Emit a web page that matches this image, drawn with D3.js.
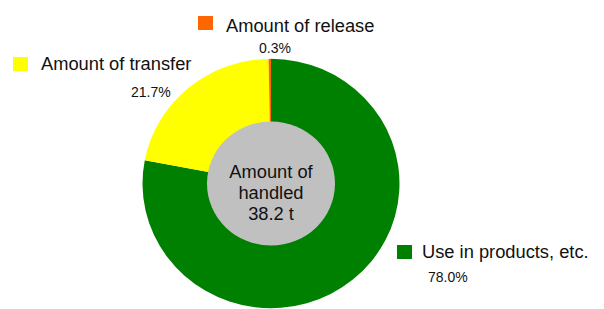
<!DOCTYPE html>
<html>
<head>
<meta charset="utf-8">
<script src="https://cdn.jsdelivr.net/npm/d3@7"></script>
<style>
  html, body { margin: 0; padding: 0; background: #fff; }
  svg { display: block; }
  .lbl { font-family: "Liberation Sans", Arial, sans-serif; font-size: 18.3px; fill: #111; }
  .pct { font-family: "Liberation Sans", Arial, sans-serif; font-size: 14px; fill: #111; }
</style>
</head>
<body>
<div id="chart"></div>
<script>
// Data
const categories = ["Use in products, etc.", "Amount of transfer", "Amount of release"];
const shares = [78.0, 21.7, 0.3];
const colors = ["#008000", "#ffff00", "#ff6600"];
const centerLines = ["Amount of", "handled", "38.2 t"];

// legend / label placement (layout only)
const labelPos = [
  { sx: 397, sy: 245, tx: 422, ty: 258, px: 428, py: 282 },
  { sx: 13, sy: 57, tx: 41, ty: 69.5, px: 131, py: 96.5 },
  { sx: 198, sy: 16, tx: 226, ty: 31.5, px: 259, py: 52.5 }
];

const width = 604, height = 309;
const cx = 271, cy = 183.5;
const outerR = 128.5, innerR = 64;
const squash = 0.97; // picture is slightly flattened vertically

const svg = d3.select("#chart").append("svg")
    .attr("width", width)
    .attr("height", height);

const pie = d3.pie().sort(null).value(d => d);
const arc = d3.arc().innerRadius(0).outerRadius(outerR);

const g = svg.append("g")
    .attr("transform", `translate(${cx},${cy}) scale(1,${squash})`);

g.selectAll("path")
    .data(pie(shares))
    .enter().append("path")
    .attr("d", arc)
    .attr("fill", (d, i) => colors[i]);

// grey hole
g.append("circle")
    .attr("r", innerR)
    .attr("fill", "#c0c0c0");

// center text
svg.append("g")
    .selectAll("text")
    .data(centerLines)
    .enter().append("text")
    .attr("class", "lbl")
    .attr("x", cx)
    .attr("y", (d, i) => 177.5 + i * 21.2)
    .attr("text-anchor", "middle")
    .text(d => d);

// legend squares, names and percents
const leg = svg.append("g");
categories.forEach((name, i) => {
    const p = labelPos[i];
    leg.append("rect")
        .attr("x", p.sx).attr("y", p.sy)
        .attr("width", 15).attr("height", 14)
        .attr("fill", colors[i]);
    leg.append("text")
        .attr("class", "lbl")
        .attr("x", p.tx).attr("y", p.ty)
        .text(name);
    leg.append("text")
        .attr("class", "pct")
        .attr("x", p.px).attr("y", p.py)
        .text(d3.format(".1f")(shares[i]) + "%");
});
</script>
</body>
</html>
